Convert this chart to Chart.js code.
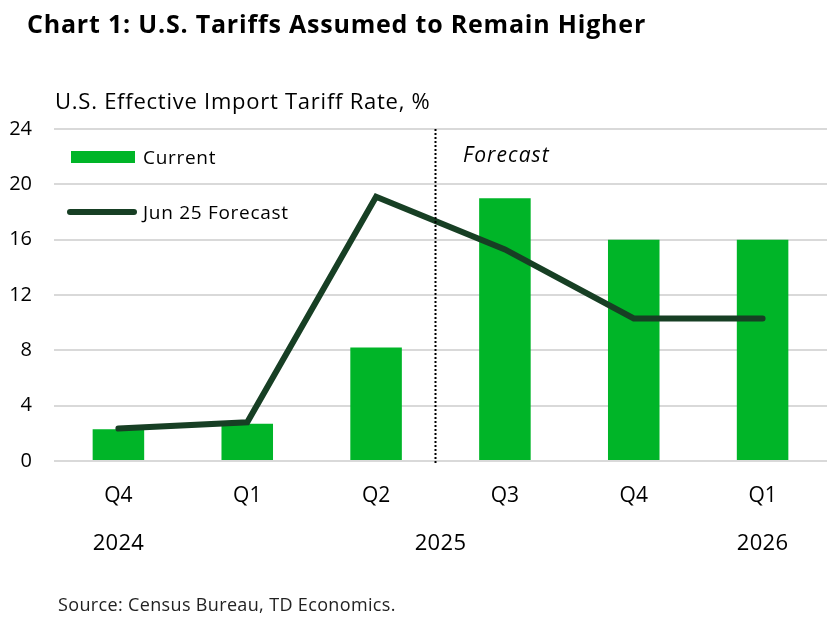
<!DOCTYPE html>
<html>
<head>
<meta charset="utf-8">
<script src="https://cdn.jsdelivr.net/npm/chart.js@4"></script>
<style>
html,body{margin:0;padding:0;background:#fff;}
canvas{display:block;}
</style>
</head>
<body>
<canvas id="c" width="827" height="617"></canvas>
<script>
const categories = ['Q4', 'Q1', 'Q2', 'Q3', 'Q4', 'Q1'];
const currentValues = [2.3, 2.7, 8.2, 19.0, 16.0, 16.0];
const jun25Forecast = [2.35, 2.8, 19.1, 15.3, 10.3, 10.3];
const yearLabels = ['2024', '2025', '2026'];
const yearSpans = [[0, 0], [1, 4], [5, 5]];
const yMin = 0, yMax = 24, yStep = 4;
const forecastLabel = 'Forecast';
const titleText = 'Chart 1: U.S. Tariffs Assumed to Remain Higher';
const subtitleText = 'U.S. Effective Import Tariff Rate, %';
const sourceText = 'Source: Census Bureau, TD Economics.';

const FONT = '"Open Sans", "DejaVu Sans", sans-serif';
const BAR_COLOR = '#00b528';
const LINE_COLOR = '#173f24';

function txt(ctx, s, x, y, font, spacing, align) {
  ctx.font = font;
  ctx.letterSpacing = spacing + 'px';
  ctx.textAlign = align || 'left';
  ctx.fillText(s, x, y);
}

const decor = {
  id: 'decor',
  afterDraw(chart) {
    const ctx = chart.ctx;
    const xs = chart.scales.x;
    const ca = chart.chartArea;
    ctx.save();
    ctx.fillStyle = '#000';
    ctx.textBaseline = 'alphabetic';
    // Title
    txt(ctx, titleText, 27, 33, 'bold 25px ' + FONT, 0.8);
    // Subtitle
    txt(ctx, subtitleText, 55, 109, '22px ' + FONT, 0.75);
    // Source
    ctx.fillStyle = '#222';
    txt(ctx, sourceText, 58, 611, '18px ' + FONT, 0.35);
    // Years
    ctx.fillStyle = '#000';
    yearLabels.forEach((y, i) => {
      const [a, b] = yearSpans[i];
      const x = (xs.getPixelForValue(a) + xs.getPixelForValue(b)) / 2;
      txt(ctx, y, x, 550, '22px ' + FONT, 0.3, 'center');
    });
    // Forecast divider
    const dx = Math.round(xs.getPixelForValue(2.46)) + 0.5;
    ctx.strokeStyle = '#000';
    ctx.lineWidth = 2;
    ctx.setLineDash([2, 2]);
    ctx.beginPath();
    ctx.moveTo(dx, ca.top);
    ctx.lineTo(dx, ca.bottom + 4);
    ctx.stroke();
    ctx.setLineDash([]);
    // Forecast label
    txt(ctx, forecastLabel, 463, 162, 'italic 21px ' + FONT, 1.1);
    // Legend
    const ds = chart.data.datasets;
    ctx.fillStyle = ds[1].backgroundColor;
    ctx.fillRect(71, 151, 64, 12);
    ctx.fillStyle = '#000';
    txt(ctx, ds[1].label, 143, 164, '19px ' + FONT, 0.7);
    ctx.strokeStyle = ds[0].borderColor;
    ctx.lineWidth = 6;
    ctx.lineCap = 'round';
    ctx.beginPath();
    ctx.moveTo(70, 212);
    ctx.lineTo(134, 212);
    ctx.stroke();
    txt(ctx, ds[0].label, 143, 219, '19px ' + FONT, 0.7);
    ctx.restore();
  }
};

new Chart(document.getElementById('c'), {
  type: 'bar',
  data: {
    labels: categories,
    datasets: [
      {
        type: 'line',
        label: 'Jun 25 Forecast',
        data: jun25Forecast,
        borderColor: LINE_COLOR,
        backgroundColor: LINE_COLOR,
        borderWidth: 6,
        pointRadius: 0,
        tension: 0,
        borderCapStyle: 'round',
        borderJoinStyle: 'miter',
        order: 0
      },
      {
        type: 'bar',
        label: 'Current',
        data: currentValues,
        backgroundColor: BAR_COLOR,
        barPercentage: 0.4,
        categoryPercentage: 1.0,
        order: 1
      }
    ]
  },
  options: {
    responsive: false,
    animation: false,
    layout: { padding: { top: 129, left: 0, right: 0, bottom: 0 } },
    plugins: {
      legend: { display: false },
      title: { display: false },
      tooltip: { enabled: false }
    },
    scales: {
      x: {
        grid: { display: false, drawTicks: false },
        border: { display: false },
        ticks: { color: '#000', font: { family: FONT, size: 21 }, padding: 22, maxRotation: 0 },
        afterFit(s) { s.height = 617 - 461; }
      },
      y: {
        min: yMin,
        max: yMax,
        grid: { color: '#d9d9d9', lineWidth: 2, drawTicks: false },
        border: { display: false },
        ticks: { stepSize: yStep, color: '#000', font: { family: FONT, size: 20 }, padding: 22 },
        afterFit(s) { s.width = 54; }
      }
    }
  },
  plugins: [decor]
});
</script>
</body>
</html>
